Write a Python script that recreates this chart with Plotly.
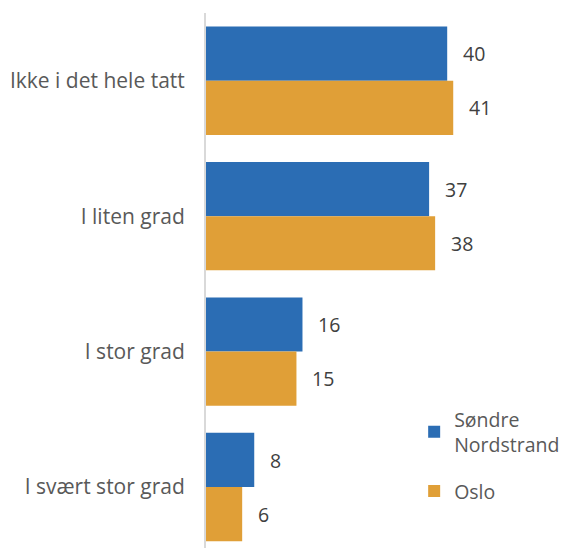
import plotly.graph_objects as go

categories = ["Ikke i det hele tatt", "I liten grad", "I stor grad", "I svært stor grad"]
series_names = ["Søndre<br>Nordstrand", "Oslo"]
sondre = [40, 37, 16, 8]
oslo = [41, 38, 15, 6]
colors = ["#2B6DB4", "#E09F37"]

FONT = "Open Sans"
fig = go.Figure()
for i, (name, vals, col) in enumerate(zip(series_names, [sondre, oslo], colors)):
    fig.add_trace(go.Bar(
        y=categories, x=vals, orientation="h", name=name, legendgroup=f"g{i}",
        marker=dict(color=col, line=dict(width=0)),
    ))

annotations = []
for vals, shift in [(sondre, 27), (oslo, -27)]:
    for c, v in zip(categories, vals):
        annotations.append(dict(
            x=v, y=c, xref="x", yref="y", text=str(v), showarrow=False,
            xanchor="left", yanchor="middle", xshift=14, yshift=shift,
            font=dict(family=FONT, size=19.5, color="#404040"),
        ))

fig.update_layout(
    width=568, height=548,
    margin=dict(l=198, r=0, t=5, b=8, autoexpand=False),
    paper_bgcolor="white", plot_bgcolor="white",
    barmode="group", bargap=0.2, bargroupgap=0,
    font=dict(family=FONT, size=19, color="#595959"),
    xaxis=dict(range=[0, 61.36], visible=False, showgrid=False, zeroline=False, automargin=False),
    yaxis=dict(range=[3.45, -0.5], showline=True, linecolor="#D9D9D9", linewidth=2,
               ticks="", ticklabelstandoff=15, showgrid=False, automargin=False,
               tickfont=dict(family=FONT, size=21, color="#595959")),
    legend=dict(x=0.5626, y=0.2766, xanchor="left", yanchor="top",
                font=dict(family=FONT, size=19.5, color="#595959"),
                traceorder="grouped", tracegroupgap=18, bgcolor="rgba(0,0,0,0)"),
    annotations=annotations,
    showlegend=True,
)
fig.write_html("out.html")
